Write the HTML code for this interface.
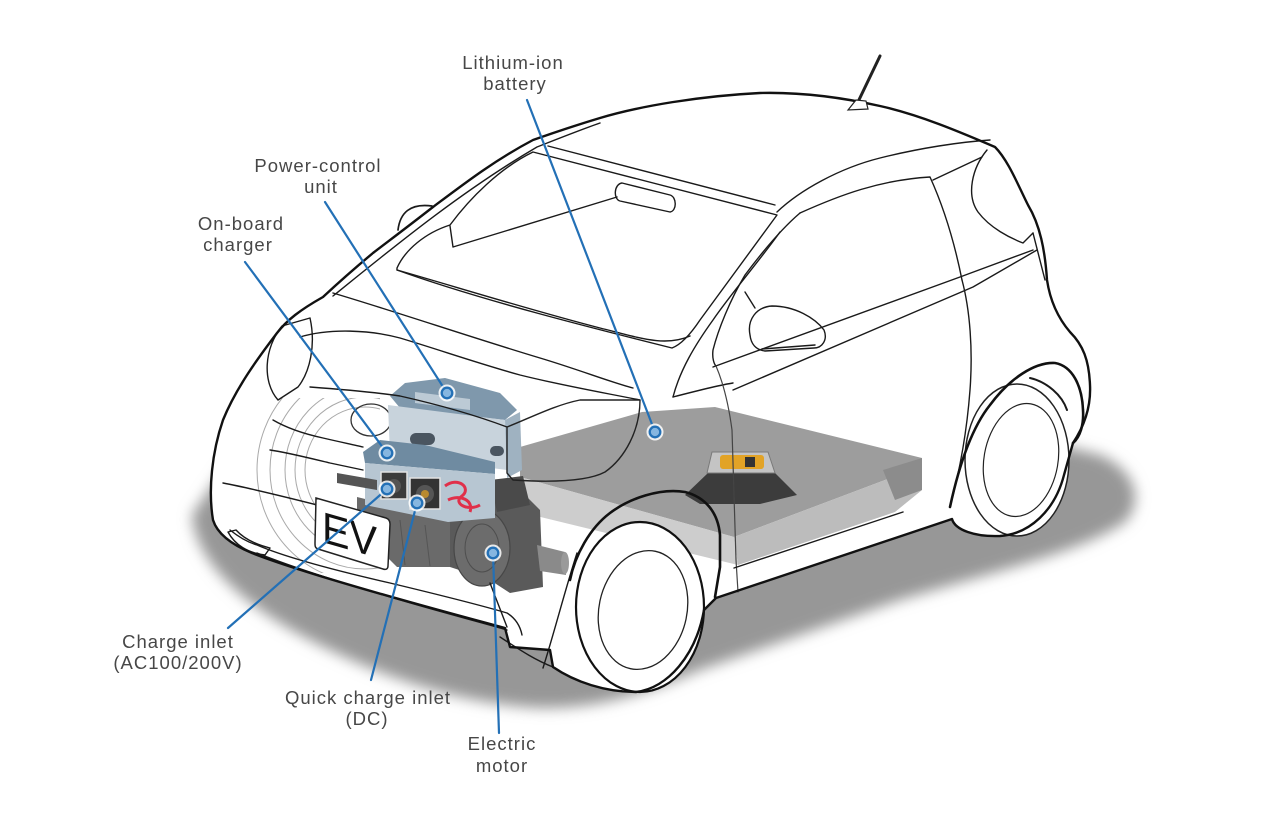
<!DOCTYPE html>
<html><head><meta charset="utf-8">
<style>
html,body{margin:0;padding:0;background:#fff;}
svg{display:block;}
.lb{font-family:"Liberation Sans",Arial,sans-serif;font-size:18.5px;fill:#474747;letter-spacing:1px;}
.ev{font-family:"Liberation Sans",Arial,sans-serif;fill:#111;}
</style></head><body>
<svg width="1280" height="818" viewBox="0 0 1280 818" xmlns="http://www.w3.org/2000/svg">
<defs>
<filter id="blur" x="-20%" y="-20%" width="140%" height="140%"><feGaussianBlur stdDeviation="7"/></filter>
<clipPath id="arcclip"><rect x="240" y="398" width="140" height="175"/></clipPath>
<path id="sil" d="M323,297 C300,310 287,320 277,333 C258,358 236,388 223,420 C212,452 208,490 213,520 C218,536 235,546 252,553 C300,572 400,600 505,628 L510,647 L550,650 L553,667 C575,682 605,692 636,692 C668,688 696,655 704,610 L716,598 L952,519 C955,530 975,537 1000,536 C1030,534 1055,510 1064,475 L1073,443 C1085,425 1091,405 1090,385 C1089,360 1083,345 1070,332 C1058,318 1050,300 1047,280 C1045,250 1040,225 1028,205 C1018,185 1008,160 995,147 C960,132 920,115 880,106 C840,97 800,92 760,93 C700,96 640,106 600,118 C570,127 550,134 533,140 C495,160 465,183 433,207 C410,225 390,240 373,253 C355,268 338,283 323,297 Z"/>
</defs>
<rect width="1280" height="818" fill="#fff"/>

<!-- ground shadow -->
<path d="M192,515 C196,565 250,612 330,650 C400,684 470,704 540,708 C600,709 650,692 700,670 L900,600 C1000,570 1080,552 1125,522 C1145,500 1135,470 1100,455 L1000,430 L600,480 L230,460 Z" fill="#979797" filter="url(#blur)"/>

<!-- body fill -->
<use href="#sil" fill="#fff"/>

<!-- faint far wheel arcs -->
<g clip-path="url(#arcclip)" fill="none" stroke="#a9a9a9" stroke-width="1">
<ellipse cx="365" cy="470" rx="108" ry="112"/>
<ellipse cx="365" cy="470" rx="95" ry="99"/>
<ellipse cx="365" cy="470" rx="80" ry="84"/>
<ellipse cx="365" cy="470" rx="70" ry="73"/>
<ellipse cx="365" cy="470" rx="60" ry="63"/>
</g>

<!-- emblem -->
<ellipse cx="371" cy="420" rx="20" ry="16" fill="none" stroke="#333" stroke-width="1.3"/>

<!-- battery -->
<polygon points="520,447 642,412 715,407 922,458 922,466 734,537 520,477" fill="#9d9d9d"/>
<polygon points="734,537 922,466 922,490 895,512 738,565" fill="#bcbcbc"/>
<polygon points="520,477 734,537 738,565 520,512" fill="#cdcdcd"/>
<polygon points="883,470 922,458 922,490 895,500" fill="#8c8c8c"/>
<!-- service plug -->
<polygon points="685,495 708,473 775,473 797,495 760,504 700,504" fill="#3c3c3c"/>
<polygon points="707,473 712,452 768,452 775,473" fill="#c4c4c4" stroke="#7a7a7a" stroke-width="1"/>
<rect x="720" y="455" width="44" height="14" rx="3" fill="#e2a326"/>
<rect x="745" y="457" width="10" height="10" fill="#333"/>

<!-- gearbox / motor -->
<polygon points="357,497 450,520 450,567 397,567 377,547 357,523" fill="#6a6a6a"/>
<polygon points="450,520 483,487 510,480 540,510 543,587 510,593 490,580 450,567" fill="#5a5a5a"/>
<polygon points="490,480 523,476 530,505 497,512" fill="#4a4a4a"/>
<ellipse cx="482" cy="548" rx="28" ry="38" fill="#6c6c6c" stroke="#474747" stroke-width="1.2"/>
<ellipse cx="482" cy="548" rx="17" ry="24" fill="none" stroke="#4e4e4e" stroke-width="1"/>
<polygon points="537,545 565,552 566,575 540,571" fill="#8a8a8a"/>
<ellipse cx="565" cy="563" rx="4" ry="11" fill="#9a9a9a"/>
<line x1="400" y1="520" x2="405" y2="565" stroke="#555" stroke-width="1"/>
<line x1="425" y1="525" x2="430" y2="566" stroke="#555" stroke-width="1"/>

<!-- PCU -->
<polygon points="390,396 405,383 445,378 500,393 517,410 505,420 400,408" fill="#7f98ac"/>
<polygon points="415,392 470,399 470,410 415,403" fill="#bccad5"/>
<polygon points="388,405 505,420 507,470 390,455" fill="#c8d3dc"/>
<polygon points="505,420 520,412 522,470 507,478" fill="#9fb2c1"/>
<rect x="410" y="433" width="25" height="12" rx="6" fill="#4a5560"/>
<rect x="490" y="446" width="14" height="10" rx="5" fill="#4a5560"/>

<!-- charger -->
<polygon points="363,452 380,440 425,445 495,462 495,474 365,463" fill="#6f8ba1"/>
<polygon points="365,463 495,474 495,518 448,522 365,505" fill="#b7c6d2"/>
<rect x="381" y="472" width="26" height="27" fill="#3b3b3b" stroke="#e2e2e2" stroke-width="1.5"/>
<circle cx="394" cy="486" r="7" fill="#555"/>
<rect x="410" y="478" width="30" height="31" fill="#333" stroke="#e2e2e2" stroke-width="1.5"/>
<circle cx="425" cy="494" r="9" fill="#555"/>
<circle cx="425" cy="494" r="4" fill="#b88a30"/>
<path d="M445,486 C458,476 472,488 462,496 C452,503 468,512 480,505 M448,500 C460,494 474,500 470,512" fill="none" stroke="#e0304a" stroke-width="3"/>

<!-- tires -->
<ellipse cx="640" cy="607" rx="64" ry="85" fill="#fff" stroke="#111" stroke-width="2.2"/>
<ellipse cx="643" cy="610" rx="44" ry="60" transform="rotate(12 643 610)" fill="none" stroke="#222" stroke-width="1.3"/>
<ellipse cx="1017" cy="460" rx="52" ry="76" fill="#fff" stroke="#222" stroke-width="1.5"/>
<ellipse cx="1021" cy="460" rx="37" ry="57" transform="rotate(10 1021 460)" fill="none" stroke="#222" stroke-width="1.2"/>

<!-- body lines -->
<g fill="none" stroke="#1a1a1a" stroke-width="1.4" stroke-linejoin="round" stroke-linecap="round">
<path d="M333,296 C390,250 460,192 537,147 C560,138 580,130 600,123"/>
<path d="M397,268 C405,250 425,233 450,225 C470,198 500,168 533,152 L777,215 L700,320 C690,335 680,345 672,348 C600,330 480,300 397,270 Z"/>
<path d="M450,226 L453,247 L617,197"/>
<path d="M548,146 L775,205"/>
<path d="M622,183 L670,195 C677,197 677,211 670,212 L620,201 C613,199 614,184 622,183 Z"/>
<path d="M777,212 C800,190 840,168 880,158 C920,148 960,142 990,140"/>
<path d="M780,232 C760,260 730,295 713,320 C695,345 680,370 673,397"/>
<path d="M800,213 C780,230 760,255 745,275 C730,300 718,330 713,350 C712,358 714,364 716,366"/>
<path d="M673,397 C700,390 720,385 733,383"/>
<path d="M800,213 C840,195 880,180 930,177 C945,210 955,245 962,280"/>
<path d="M933,180 L982,157"/>
<path d="M713,367 L960,277 L1033,250"/>
<path d="M733,390 L973,287 L1037,250"/>
<path d="M962,280 C970,310 973,350 970,390 C967,430 960,470 950,507"/>
<path d="M716,366 C722,380 728,400 732,430 L736,560 L738,592" stroke="#444" stroke-width="1.2"/>
<path d="M987,150 C972,168 966,195 978,212 C990,228 1010,238 1023,243 L1033,233"/>
<path d="M1033,233 L1045,280"/>
<path d="M750,335 C747,320 756,307 772,306 C795,306 815,318 824,330 C828,340 822,348 814,348 L765,351 C756,350 751,344 750,335 Z"/>
<path d="M762,349 L815,345"/>
<path d="M745,292 L755,308"/>
<path d="M734,568 L903,512"/>
<path d="M397,270 C450,285 530,310 600,328 C640,338 665,347 690,336"/>
<path d="M333,293 C400,313 470,337 540,358 C580,370 610,382 633,388"/>
<path d="M300,337 C330,328 370,330 400,338 C440,350 480,364 520,375 C560,385 600,392 640,400"/>
<path d="M310,387 C350,390 380,393 400,396 C440,405 475,415 507,427"/>
<path d="M398,230 C400,213 410,203 432,206" stroke-width="1.7"/>
<path d="M507,427 C530,418 555,405 580,400 L640,400 C640,430 625,458 605,472 C590,480 560,483 513,480 L507,473 Z" stroke="#222"/>
<path d="M310,318 C316,345 310,372 298,387 L278,400 C262,382 264,348 282,326 Z"/>
<path d="M273,420 C285,427 300,433 323,438 C340,442 355,445 363,447"/>
<path d="M270,450 C285,452 305,457 330,463 L363,470"/>
<path d="M223,483 C250,488 290,498 337,510"/>
<path d="M230,530 C240,538 250,543 257,545 C280,555 320,567 390,583 C440,595 480,605 507,613 C515,618 520,625 522,635"/>
<path d="M257,553 C300,570 350,585 390,597 C440,612 480,622 507,630"/>
<path d="M228,532 C235,545 248,553 265,555 L270,548 C258,545 245,540 236,530 Z"/>
<path d="M490,583 L507,627"/>
<path d="M500,637 C520,650 535,660 553,667"/>
<path d="M577,553 C565,590 555,630 543,668"/>
<path d="M1030,378 C1047,382 1062,395 1067,410" stroke-width="2"/>
</g>
<polygon points="337,473 377,480 377,490 337,483" fill="#555"/>

<!-- license plate -->
<path d="M316,498 L386,518 C389,519 390,521 390,524 L388,566 C388,569 386,570 383,569 L318,549 C315,548 315,546 315,543 Z" fill="#fff" stroke="#222" stroke-width="1.5"/>
<text class="ev" transform="translate(322,542) skewY(16)" x="0" y="0" font-size="44" textLength="55" lengthAdjust="spacingAndGlyphs">EV</text>

<!-- wheel arches -->
<g fill="none" stroke="#111" stroke-width="2.6" stroke-linejoin="round" stroke-linecap="round">
<path d="M570,580 C575,555 590,528 610,513 C630,498 660,488 685,492 C705,497 718,512 720,535 L720,567 L715,597"/>
<path d="M950,507 C958,470 970,430 990,405 C1010,378 1035,362 1055,363 C1072,366 1082,385 1083,410 C1084,425 1080,437 1073,443"/>
</g>

<!-- silhouette stroke -->
<use href="#sil" fill="none" stroke="#111" stroke-width="2.4" stroke-linejoin="round"/>

<!-- antenna -->
<line x1="857" y1="104" x2="880" y2="56" stroke="#222" stroke-width="3" stroke-linecap="round"/>
<path d="M848,110 L856,100 L866,101 L868,109 Z" fill="#fff" stroke="#222" stroke-width="1.2"/>

<!-- leader lines -->
<g stroke="#2370b6" stroke-width="2.2" fill="none" stroke-linecap="round">
<line x1="527" y1="100" x2="655" y2="432"/>
<line x1="325" y1="202" x2="447" y2="393"/>
<line x1="245" y1="262" x2="387" y2="453"/>
<line x1="228" y1="628" x2="387" y2="489"/>
<line x1="371" y1="680" x2="417" y2="503"/>
<line x1="499" y1="733" x2="493" y2="553"/>
</g>
<g fill="#fff" fill-opacity="0.85">
<circle cx="655" cy="432" r="8.5"/><circle cx="447" cy="393" r="8.5"/><circle cx="387" cy="453" r="8.5"/>
<circle cx="387" cy="489" r="8.5"/><circle cx="417" cy="503" r="8.5"/><circle cx="493" cy="553" r="8.5"/>
</g>
<g fill="#86b6e0" stroke="#2370b6" stroke-width="2.3">
<circle cx="655" cy="432" r="5.3"/><circle cx="447" cy="393" r="5.3"/><circle cx="387" cy="453" r="5.3"/>
<circle cx="387" cy="489" r="5.3"/><circle cx="417" cy="503" r="5.3"/><circle cx="493" cy="553" r="5.3"/>
</g>

<!-- labels -->
<g text-anchor="middle">
<text class="lb" x="513" y="69">Lithium-ion</text>
<text class="lb" x="515" y="90">battery</text>
<text class="lb" x="318" y="172">Power-control</text>
<text class="lb" x="321" y="193">unit</text>
<text class="lb" x="241" y="230">On-board</text>
<text class="lb" x="238" y="251">charger</text>
<text class="lb" x="178" y="648">Charge inlet</text>
<text class="lb" x="178" y="669">(AC100/200V)</text>
<text class="lb" x="368" y="704">Quick charge inlet</text>
<text class="lb" x="367" y="725">(DC)</text>
<text class="lb" x="502" y="750">Electric</text>
<text class="lb" x="502" y="772">motor</text>
</g>
</svg>
</body></html>
